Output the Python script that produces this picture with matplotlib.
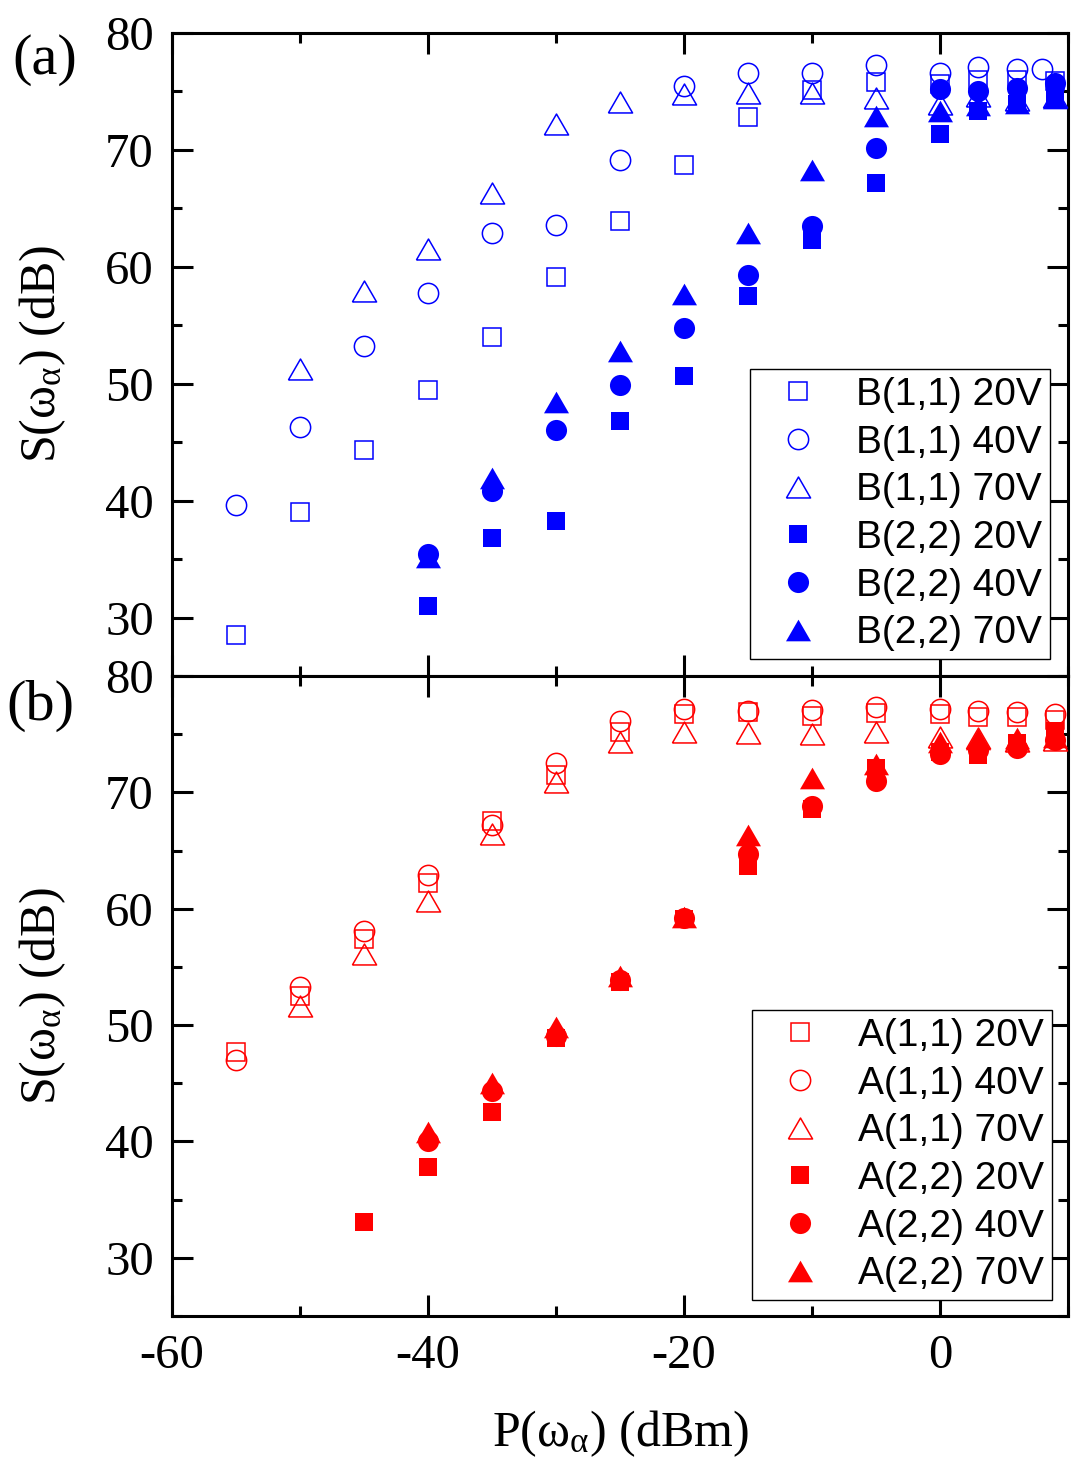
import matplotlib
matplotlib.use('Agg')
import matplotlib.pyplot as plt
from matplotlib.ticker import MultipleLocator

plt.rcParams.update({
    'font.family': ['Liberation Serif', 'DejaVu Serif'],
    'mathtext.fontset': 'custom',
    'mathtext.rm': 'Liberation Serif',
    'mathtext.it': 'Liberation Serif:italic',
    'mathtext.bf': 'Liberation Serif:bold',
    'axes.unicode_minus': False,
})

# ---------------- data ----------------
x_full = [-55, -50, -45, -40, -35, -30, -25, -20, -15, -10, -5, 0, 3, 6, 9]
x_b40 = [-55, -50, -45, -40, -35, -30, -25, -20, -15, -10, -5, 0, 3, 6, 8]
x_from50 = [-50, -45, -40, -35, -30, -25, -20, -15, -10, -5, 0, 3, 6, 9]
x_from45 = [-45, -40, -35, -30, -25, -20, -15, -10, -5, 0, 3, 6, 9]
x_from40 = [-40, -35, -30, -25, -20, -15, -10, -5, 0, 3, 6, 9]

# panel (a)
B11_20V = [28.5, 39.0, 44.3, 49.5, 54.0, 59.1, 63.9, 68.7, 72.8, 75.1, 75.8, 75.6, 76.0, 76.0, 75.9]
B11_40V = [39.6, 46.3, 53.2, 57.8, 62.9, 63.6, 69.1, 75.5, 76.6, 76.6, 77.3, 76.6, 77.1, 76.9, 76.9]
B11_70V = [51.3, 57.9, 61.5, 66.3, 72.2, 74.1, 74.8, 74.9, 74.9, 74.4, 73.9, 74.6, 74.3, 74.5]
B22_20V = [31.0, 36.8, 38.3, 46.8, 50.7, 57.5, 62.3, 67.2, 71.4, 73.3, 73.9, 74.5]
B22_40V = [35.4, 40.8, 46.0, 49.9, 54.8, 59.3, 63.5, 70.2, 75.2, 75.0, 75.3, 75.7]
B22_70V = [35.2, 41.9, 48.4, 52.8, 57.7, 62.9, 68.3, 72.9, 73.3, 73.8, 74.0, 74.4]

# panel (b)
A11_20V = [47.7, 52.5, 57.4, 62.2, 67.5, 71.5, 75.2, 76.7, 76.9, 76.6, 76.8, 76.7, 76.5, 76.5, 76.2]
A11_40V = [47.0, 53.3, 58.1, 62.9, 67.2, 72.5, 76.1, 77.2, 77.0, 77.1, 77.3, 77.2, 77.0, 76.9, 76.7]
A11_70V = [51.6, 56.1, 60.7, 66.4, 70.9, 74.3, 75.2, 75.1, 75.0, 75.2, 74.8, 74.7, 74.4, 74.5]
A22_20V = [33.1, 37.8, 42.5, 48.9, 53.7, 59.1, 63.7, 68.6, 72.1, 73.5, 73.2, 74.2, 75.3]
A22_40V = [40.0, 44.3, 49.1, 53.9, 59.2, 64.7, 68.8, 71.0, 73.3, 73.6, 73.8, 74.5]
A22_70V = [40.8, 45.0, 49.8, 54.2, 59.3, 66.3, 71.2, 72.4, 74.3, 74.6, 74.7, 74.8]

labels_a = ['B(1,1) 20V', 'B(1,1) 40V', 'B(1,1) 70V', 'B(2,2) 20V', 'B(2,2) 40V', 'B(2,2) 70V']
labels_b = ['A(1,1) 20V', 'A(1,1) 40V', 'A(1,1) 70V', 'A(2,2) 20V', 'A(2,2) 40V', 'A(2,2) 70V']

x_ticks = [-60, -40, -20, 0]
y_ticks = [30, 40, 50, 60, 70, 80]

# ---------------- style ----------------
W, H = 1073, 1478
fig = plt.figure(figsize=(W / 100, H / 100), dpi=100)
L, R = 172 / W, 1068 / W
ax1 = fig.add_axes([L, 1 - 676 / H, R - L, (676 - 33) / H])
ax2 = fig.add_axes([L, 1 - 1316 / H, R - L, (1316 - 676) / H])

tri = [(-1, -0.866), (1, -0.866), (0, 0.866), (-1, -0.866)]
markers = ['s', 'o', tri]
msizes = [12.6, 14.6, 17.4]


def draw(ax, xs, ys, labels, color, leg_anchor):
    handles = []
    for i, (xv, yv) in enumerate(zip(xs, ys)):
        k = i % 3
        filled = i >= 3
        h, = ax.plot(xv, yv, linestyle='none', marker=markers[k], ms=msizes[k] if not filled else msizes[k] + 0.6,
                     mfc=color if filled else 'none', mec=color,
                     mew=0.0 if filled else 1.1, label=labels[i], zorder=3)
        handles.append(h)
    ax.set_xlim(-60, 10)
    ax.set_ylim(25, 80)
    ax.set_xticks(x_ticks)
    ax.set_yticks(y_ticks)
    ax.xaxis.set_minor_locator(MultipleLocator(10))
    ax.yaxis.set_minor_locator(MultipleLocator(5))
    ax.tick_params(which='both', direction='in', top=True, right=True, width=2.2,
                   labelsize=35, pad=13)
    ax.tick_params(which='major', length=15)
    ax.tick_params(which='minor', length=7.5)
    for sp in ax.spines.values():
        sp.set_linewidth(2.2)
    for lab in ax.get_xticklabels() + ax.get_yticklabels():
        lab.set_fontfamily('Liberation Serif')
    leg = ax.legend(handles=handles, loc='lower right', bbox_to_anchor=leg_anchor,
                    bbox_transform=fig.transFigure, borderaxespad=0,
                    prop={'family': 'Liberation Sans', 'size': 28},
                    frameon=True, fancybox=False, framealpha=1, edgecolor='black',
                    borderpad=0.2, handlelength=2.1, handletextpad=0.44,
                    labelspacing=0.3, numpoints=1)
    leg.get_frame().set_linewidth(1.0)
    ax.set_ylabel(r'S($\mathrm{\omega_{\alpha}}$) (dB)', fontsize=36)
    ax.yaxis.set_label_coords((68 - 172) / 896, 0.5)
    return handles


draw(ax1, [x_full, x_b40, x_from50, x_from40, x_from40, x_from40],
     [B11_20V, B11_40V, B11_70V, B22_20V, B22_40V, B22_70V], labels_a, '#0000ff',
     (1050 / W, 1 - 659 / H))
draw(ax2, [x_full, x_full, x_from50, x_from45, x_from40, x_from40],
     [A11_20V, A11_40V, A11_70V, A22_20V, A22_40V, A22_70V], labels_b, '#ff0000',
     (1052 / W, 1 - 1300 / H))

ax1.tick_params(labelbottom=False)
ax2.set_xlabel(r'P($\mathrm{\omega_{\alpha}}$) (dBm)', fontsize=36)
ax2.xaxis.set_label_coords(0.5, (1316 - 1408) / 640)

fig.text(45 / W, 1 - 60 / H, '(a)', ha='center', va='center', fontsize=42, family='Liberation Serif')
fig.text(40 / W, 1 - 706 / H, '(b)', ha='center', va='center', fontsize=42, family='Liberation Serif')

fig.savefig('out.png', dpi=100)
